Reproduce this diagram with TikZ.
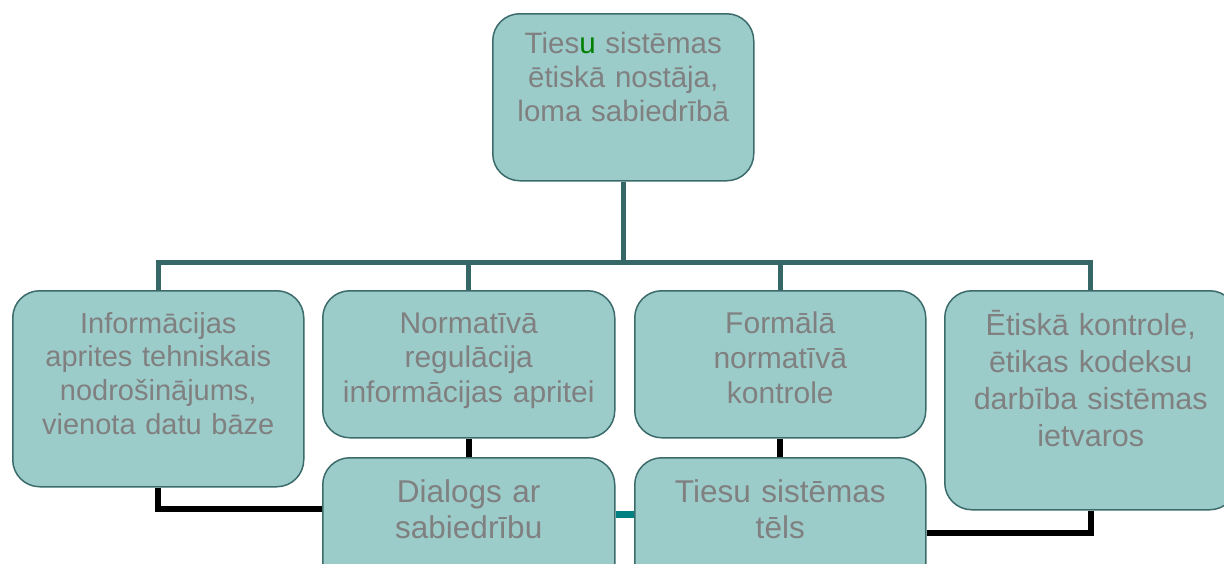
\documentclass[tikz,border=0pt]{standalone}
\usepackage{fontspec}
\setmainfont{Liberation Sans}
\definecolor{boxfill}{HTML}{9CCCCA}
\definecolor{boxline}{HTML}{3B6B6B}
\definecolor{busc}{HTML}{346766}
\definecolor{linkc}{HTML}{008080}
\definecolor{txt}{HTML}{808080}
\definecolor{grn}{HTML}{008000}
\begin{document}
\begin{tikzpicture}[x=1pt,y=-1pt,
  box/.style={draw=boxline, line width=1.5pt, fill=boxfill, rounded corners=27pt,
    inner sep=0pt, anchor=north west},
  lbl/.style={text=txt, align=center, inner sep=0pt, anchor=base},
  busline/.style={draw=busc, line width=5pt, line join=miter},
  blk/.style={draw=black, line width=6pt, line join=miter},
  lnk/.style={draw=linkc, line width=7pt}]
\useasboundingbox (0,0) rectangle (1224,563);
\fill[white] (0,0) rectangle (1224,563);
% boxes
\node[box, minimum width=261pt, minimum height=167pt] (top) at (492,13) {};
\node[box, minimum width=291pt, minimum height=196pt] (b1) at (12,290) {};
\node[box, minimum width=292pt, minimum height=147pt] (b2) at (322,290) {};
\node[box, minimum width=291pt, minimum height=147pt] (b3) at (634,290) {};
\node[box, minimum width=292pt, minimum height=219pt] (b4) at (944,290) {};
\node[box, minimum width=292pt, minimum height=140pt] (b5) at (322,457) {};
\node[box, minimum width=291pt, minimum height=140pt] (b6) at (634,457) {};
% texts
\node[lbl, text width=261pt, font=\fontsize{29.5}{34}\selectfont] (ttop) at (top.north |- 0,53)
  {Ties\textcolor{grn}{u} sistēmas\\ētiskā nostāja,\\loma sabiedrībā};
\node[lbl, text width=291pt, font=\fontsize{29}{33.7}\selectfont] (t1) at (b1.north |- 0,333)
  {Informācijas\\aprites tehniskais\\nodrošinājums,\\vienota datu bāze};
\node[lbl, text width=292pt, font=\fontsize{30}{34.5}\selectfont] (t2) at (b2.north |- 0,333)
  {Normatīvā\\regulācija\\informācijas apritei};
\node[lbl, text width=291pt, font=\fontsize{30}{35}\selectfont] (t3) at (b3.north |- 0,333)
  {Formālā\\normatīvā\\kontrole};
\node[lbl, text width=292pt, font=\fontsize{30.5}{37.3}\selectfont] (t4) at (b4.north |- 0,335)
  {Ētiskā kontrole,\\ētikas kodeksu\\darbība sistēmas\\ietvaros};
\node[lbl, text width=292pt, font=\fontsize{31.5}{36}\selectfont] (t5) at (b5.north |- 0,502)
  {Dialogs ar\\sabiedrību};
\node[lbl, text width=291pt, font=\fontsize{31.5}{36}\selectfont] (t6) at (b6.north |- 0,502)
  {Tiesu sistēmas\\tēls};
% bus connectors
\draw[busline] (top.south) -- (top.south |- 0,262);
\draw[busline] (b1.north) -- (b1.north |- 0,262) -- (b4.north |- 0,262) -- (b4.north);
\draw[busline] (b2.north) -- (b2.north |- 0,262);
\draw[busline] (b3.north) -- (b3.north |- 0,262);
% black connectors
\draw[blk] (b1.south) |- (b5.west |- 0,509);
\draw[blk] (b2.south) -- (b5.north);
\draw[blk] (b3.south) -- (b6.north);
\draw[blk] (b4.south) |- (b6.east |- 0,533);
% teal link
\draw[lnk] (b5.east |- 0,514) -- (b6.west |- 0,514);
\end{tikzpicture}
\end{document}
